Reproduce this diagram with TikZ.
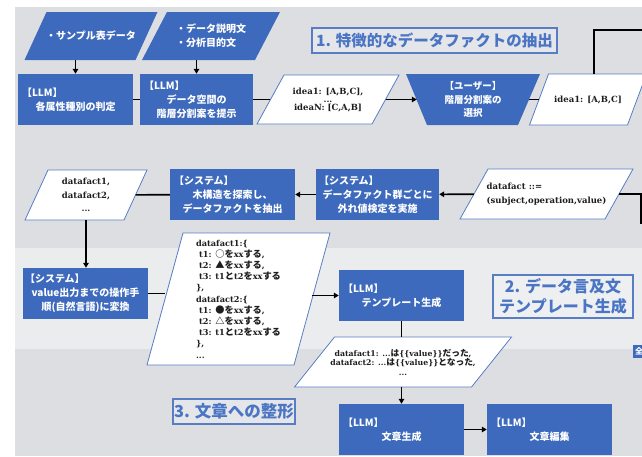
\documentclass[tikz,border=0pt]{standalone}
\usepackage{fontspec}
\setmainfont{Noto Sans CJK JP}
\newfontfamily\latserif{DejaVu Serif}
\newfontfamily\jpfam[Scale=1.12]{Noto Sans CJK JP}
\usetikzlibrary{arrows.meta}
\definecolor{bluefill}{RGB}{61,106,188}
\definecolor{blueline}{RGB}{88,125,196}
\definecolor{titleblue}{RGB}{74,117,196}
\definecolor{bgA}{RGB}{220,222,226}
\definecolor{bgB}{RGB}{235,236,238}
\definecolor{titlefillA}{RGB}{228,230,234}
\definecolor{titlefillB}{RGB}{238,239,241}
\definecolor{textdark}{RGB}{30,30,30}
\newcommand\jtxt[1]{{\jpfam #1}}
\newcommand\leadline[1]{\noindent\hbox to\linewidth{#1\hfil}}
% name, cx, cy, w, h, slant, shape style, node style, text
\newcommand\slantnode[9]{%
  \filldraw[#7] ({#2-#4/2+#6/2},{#3-#5/2}) -- ({#2+#4/2+#6/2},{#3-#5/2})
    -- ({#2+#4/2-#6/2},{#3+#5/2}) -- ({#2-#4/2-#6/2},{#3+#5/2}) -- cycle;
  \node[#8, minimum width=#4, minimum height=#5] (#1) at (#2,#3) {#9};
}
\begin{document}
\begin{tikzpicture}[x=1pt,y=-1pt,
  conn/.style={line width=1.6pt, draw=black},
  arr/.style={conn, -{Triangle[length=5pt,width=5.5pt]}},
  bluetext/.style={text=white, font=\bfseries\fontsize{10}{14}\selectfont, inner sep=0pt, align=center},
  bluebox/.style={bluetext, fill=bluefill},
  whiteshape/.style={fill=white, draw=blueline, line width=0.8pt},
  blueshape/.style={fill=bluefill, draw=none},
  paratext/.style={text=textdark, font=\latserif\bfseries\fontsize{8.5}{11}\selectfont, inner sep=0pt},
  titlebox/.style={draw=blueline, line width=1.2pt, text=titleblue, inner sep=0pt, align=center}
]
\useasboundingbox (0,0) rectangle (642,456);
\clip (0,0) rectangle (642,456);
% backgrounds
\fill[white] (0,0) rectangle (642,456);
\fill[bgA] (15,7) rectangle (642,456);
\fill[bgB] (15,248) rectangle (642,349);

% ---- row 1 ----
\slantnode{p1}{91}{36}{111}{48}{22}{blueshape}{bluetext}{・サンプル表データ}
\slantnode{p2}{211}{36}{113}{48}{25}{blueshape}{bluetext, align=left}{・データ説明文\\・分析目的文}
\node[bluebox, minimum width=115, minimum height=51, text width=107] (b1) at (75.5,99.5) {\leadline{【LLM】}\\各属性種別の判定};
\node[bluebox, minimum width=113, minimum height=51, text width=105] (b2) at (196.5,99.5) {\leadline{【LLM】}\\データ空間の\\階層分割案を提示};
\slantnode{p3}{328}{99.5}{115}{49}{27}{whiteshape}{paratext, align=center}{idea1: [A,B,C],\\[-3pt]...\\[-3pt]ideaN: [C,A,B]}
\filldraw[blueshape] (406,74) -- (540,74) -- (518,125) -- (427,125) -- cycle;
\node[bluetext, font=\bfseries\fontsize{9.5}{13.5}\selectfont, minimum width=112, minimum height=51] (tr) at (473,99.5) {【ユーザー】\\階層分割案の\\選択};
\slantnode{p4}{588}{99.5}{98}{51}{19}{whiteshape}{paratext}{idea1: [A,B,C]}
\node[titlebox, fill=titlefillA, minimum width=245, minimum height=25, font=\bfseries\fontsize{15.5}{18}\selectfont] (t1) at (434.5,40.5) {1. 特徴的なデータファクトの抽出};
\coordinate (eR1) at (650,30);

% ---- row 2 ----
\slantnode{p5}{546.5}{194}{145}{50}{28}{whiteshape}{paratext, align=left, font=\latserif\bfseries\fontsize{8.5}{14}\selectfont}{datafact ::=\\(subject,operation,value)}
\coordinate (eR2) at (641,224);
\node[bluebox, minimum width=123, minimum height=51, text width=117] (s2) at (377.5,194.5) {\leadline{【システム】}\\データファクト群ごとに\\外れ値検定を実施};
\node[bluebox, minimum width=125, minimum height=51, text width=117] (s1) at (232.5,194.5) {\leadline{【システム】}\\木構造を探索し、\\データファクトを抽出};
\slantnode{p6}{86}{195}{99}{50}{23}{whiteshape}{paratext, align=center, font=\latserif\bfseries\fontsize{8.5}{13.5}\selectfont}{datafact1,\\datafact2,\\...}

% ---- row 3 ----
\node[bluebox, minimum width=125, minimum height=51, text width=121] (s3) at (85.5,293.5) {\leadline{【システム】}\\value出力までの操作手\\順(自然言語)に変換};
\slantnode{bp}{238.5}{299}{147}{132}{36}{whiteshape}{paratext, align=left, font=\latserif\bfseries\fontsize{8.2}{11.2}\selectfont}{%
datafact1:\{\\
\hspace*{3pt}t1: \jtxt{○を}xx\jtxt{する},\\
\hspace*{3pt}t2: \jtxt{▲を}xx\jtxt{する},\\
\hspace*{3pt}t3: t1\jtxt{と}t2\jtxt{を}xx\jtxt{する}\\
\},\\
datafact2:\{\\
\hspace*{3pt}t1: \jtxt{●を}xx\jtxt{する},\\
\hspace*{3pt}t2: \jtxt{△を}xx\jtxt{する},\\
\hspace*{3pt}t3: t1\jtxt{と}t2\jtxt{を}xx\jtxt{する}\\
\},\\
...}
\node[bluebox, minimum width=125, minimum height=51, text width=117] (tm) at (401.5,295.5) {\leadline{【LLM】}\\テンプレート生成};
\node[titlebox, fill=titlefillB, minimum width=140, minimum height=43, font=\bfseries\fontsize{16}{20}\selectfont] (t2) at (563,296.5) {2. データ言及文\\テンプレート生成};
\node[fill=bluefill, text=white, font=\bfseries\fontsize{8}{9}\selectfont, anchor=west, minimum height=13, minimum width=20, inner sep=2pt] (zen) at (633,351.5) {全\hspace*{8pt}};
\slantnode{p7}{403}{362}{177}{50}{40}{whiteshape}{paratext, align=center, font=\latserif\bfseries\fontsize{7.8}{9.5}\selectfont}{datafact1: ...\jtxt{は}\{\{value\}\}\jtxt{だった},\\datafact2: ...\jtxt{は}\{\{value\}\}\jtxt{となった},\\...}

% ---- row 4 ----
\node[bluebox, minimum width=125, minimum height=51, text width=117] (gen) at (401.5,429.5) {\leadline{【LLM】}\\文章生成};
\node[bluebox, minimum width=125, minimum height=51, text width=117] (ed) at (549.5,429.5) {\leadline{【LLM】}\\文章編集};
\node[titlebox, fill=titlefillA, minimum width=122, minimum height=25, font=\bfseries\fontsize{16.5}{20}\selectfont] (t3) at (234,411.5) {3. 文章への整形};

% ---- connectors ----
\draw[arr] (b1.north |- p1.south) -- (b1.north);
\draw[arr] (b2.north |- p2.south) -- (b2.north);
\draw[conn] (b1) -- (b2);
\draw[conn] (b2) -- (p3);
\draw[arr] (p3) -- (tr);
\draw[conn] (tr) -- (p4);
\draw[conn] ([xshift=6pt]p4.north) |- (eR1);
\draw[conn] (p5.east) -| (eR2);
\draw[arr] (p5) -- (s2);
\draw[arr] (s2) -- (s1);
\draw[conn] (s1) -- (p6);
\draw[arr] (p6.south) -- (p6.south |- s3.north);
\draw[conn] (s3.east) -- (s3.east -| bp.west);
\draw[arr] (bp.east |- tm.west) -- (tm.west);
\draw[conn] (tm.south) -- (tm.south |- p7.north);
\draw[arr] (p7.south -| gen.north) -- (gen.north);
\draw[arr] (gen) -- (ed);
\end{tikzpicture}
\end{document}
